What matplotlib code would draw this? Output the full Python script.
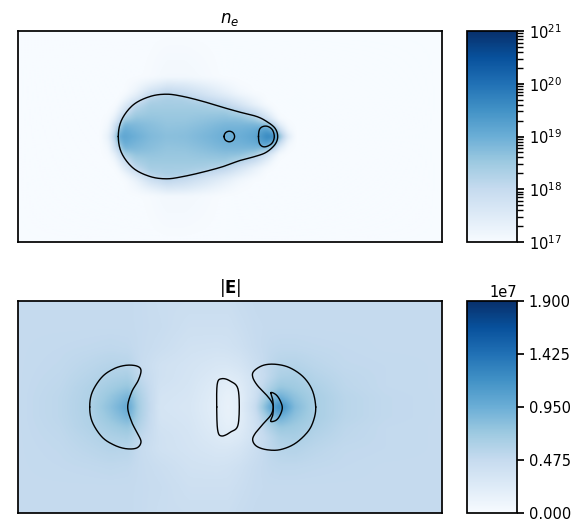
import numpy as np
import matplotlib
matplotlib.use("Agg")
import matplotlib.pyplot as plt
from matplotlib.colors import LogNorm, Normalize
from matplotlib.cm import ScalarMappable

# Field samples. x = horizontal position, dy = distance from the axis.
NE_X = [18, 100, 108, 114, 118, 124, 135, 150, 167, 185, 205, 225, 240, 255, 267, 275, 280, 288, 296, 442]
NE_DY = [0, 6, 12, 18, 25, 32, 38, 42, 46, 52, 60, 106]
NE_LOG = [
    [17, 17, 17.3, 18.1, 19.0, 19.15, 19.0, 18.8, 18.7, 18.72, 18.85, 19.0, 19.0, 19.15, 19.65, 19.6, 18.7, 17.5, 17, 17],
    [17, 17, 17.2, 17.8, 18.6, 19.05, 18.9, 18.75, 18.65, 18.68, 18.8, 18.95, 18.95, 19.05, 19.35, 18.9, 18.0, 17.2, 17, 17],
    [17, 17, 17.1, 17.7, 18.1, 18.85, 18.8, 18.7, 18.6, 18.62, 18.72, 18.85, 18.85, 18.85, 18.7, 18.0, 17.4, 17.05, 17, 17],
    [17, 17, 17.05, 17.3, 17.7, 18.35, 18.6, 18.6, 18.55, 18.55, 18.62, 18.68, 18.65, 18.4, 17.8, 17.3, 17.05, 17, 17, 17],
    [17, 17, 17, 17.1, 17.35, 17.8, 18.35, 18.5, 18.5, 18.5, 18.5, 18.5, 18.25, 17.85, 17.35, 17.05, 17, 17, 17, 17],
    [17, 17, 17, 17, 17.1, 17.45, 18.05, 18.4, 18.4, 18.4, 18.35, 18.1, 17.7, 17.3, 17.05, 17, 17, 17, 17, 17],
    [17, 17, 17, 17, 17, 17.15, 17.6, 18.2, 18.35, 18.3, 18.0, 17.7, 17.4, 17.15, 17, 17, 17, 17, 17, 17],
    [17, 17, 17, 17, 17, 17.05, 17.35, 17.95, 18.2, 18.05, 17.75, 17.45, 17.2, 17.05, 17, 17, 17, 17, 17, 17],
    [17, 17, 17, 17, 17, 17, 17.2, 17.7, 18.0, 17.85, 17.6, 17.3, 17.1, 17, 17, 17, 17, 17, 17, 17],
    [17, 17, 17, 17, 17, 17, 17.1, 17.35, 17.6, 17.55, 17.35, 17.15, 17.03, 17, 17, 17, 17, 17, 17, 17],
    [17, 17, 17, 17, 17, 17, 17, 17.03, 17.1, 17.1, 17.05, 17, 17, 17, 17, 17, 17, 17, 17, 17],
    [17] * 20,
]
E_X = [18, 60, 90, 110, 128, 140, 160, 190, 217, 228, 240, 255, 270, 280, 295, 315, 345, 385, 442]
E_DY = [0, 10, 20, 30, 42, 60, 80, 106]
E_VAL = [
    [.48, .53, .62, .80, 1.0, .64, .33, .30, .20, .14, .20, .45, 1.0, 1.25, .85, .65, .55, .50, .48],
    [.48, .53, .61, .75, .90, .62, .34, .31, .21, .15, .20, .40, .78, .95, .78, .65, .55, .50, .48],
    [.48, .52, .60, .68, .75, .57, .36, .32, .23, .18, .23, .38, .62, .74, .70, .62, .53, .49, .48],
    [.48, .51, .57, .62, .65, .51, .38, .33, .26, .23, .27, .38, .53, .63, .65, .58, .52, .49, .48],
    [.48, .50, .54, .57, .56, .47, .38, .34, .30, .30, .33, .42, .52, .57, .58, .54, .50, .49, .48],
    [.48, .49, .50, .51, .50, .47, .43, .37, .36, .37, .40, .46, .50, .51, .51, .50, .49, .48, .48],
    [.48, .48, .48, .48, .48, .47, .45, .40, .40, .40, .43, .47, .48, .48, .48, .48, .48, .48, .48],
    [.48, .48, .48, .48, .48, .47, .44, .43, .43, .43, .46, .48, .48, .48, .48, .48, .48, .48, .48],
]

# Contour outlines: (x, dy)
NE_OUTER = [(118.3, 0), (121.7, 16.7), (133.3, 31.7), (150, 40), (166.7, 42.3), (183.3, 40), (203.3, 35),
            (223.3, 29), (240, 24.3), (256.7, 20), (266.7, 15), (275, 8.3), (277.7, 0), (275, -8), (266.7, -15.5),
            (256.7, -19.5), (240, -24), (223.3, -30), (203.3, -35.5), (183.3, -40), (166.7, -42.3), (150, -40),
            (133.3, -31.7), (121.7, -16.7)]
NE_SPOT = [(224, 0), (225.6, 3.8), (229.3, 5.3), (233, 3.8), (234.6, 0), (233, -3.8), (229.3, -5.3), (225.6, -3.8)]
NE_HEAD = [(258.5, 0), (259.5, 7), (263, 10), (268, 10), (272.5, 6.5), (274.3, 0), (272.5, -6), (268, -9.5),
           (263, -10.2), (259.5, -7)]
E_LEFT = [(89.7, 0), (92.3, 15), (102, 30), (114, 38.3), (126, 41.7), (136.7, 41), (141, 36.7), (138.3, 26.7),
          (131.7, 15), (127.7, 0), (131.7, -15), (137.7, -26.7), (141, -35), (136.7, -41), (126, -41.7),
          (114, -38), (102, -30), (92.3, -15)]
E_RIGHT = [(315.7, 0), (312.3, 16.7), (303.4, 30), (289.7, 39.3), (275.7, 42.7), (263.3, 41.7), (254, 36), (252.7, 30),
           (257.3, 21.7), (266.7, 11.7), (271.7, 5), (273.3, -0.7), (270.7, -8.3), (263.3, -16.7), (255, -26.7),
           (252.7, -33.3), (256.7, -39.3), (266.7, -42.7), (280, -42.7), (294.8, -36.7), (307.6, -25), (313.6, -13.3)]
E_MID = [(216.7, 0), (217.3, 23.3), (221.7, 28.3), (230, 26), (238.3, 16.7), (238.3, -16.7), (230.7, -25),
         (221.7, -29), (217.7, -23.3)]
E_TIP = [(271, 14.3), (276, 12.3), (280, 6.7), (282.3, -0.7), (280, -8.3), (276, -13.3), (270.7, -14.3),
         (272.7, -8.3), (273.3, -0.7), (272.7, 7.3)]

CMAP = "Blues"


def closed_curve(pts, n=16):
    p = np.array(pts, float)
    t = np.linspace(0, 1, n, endpoint=False)[:, None]
    out = []
    for i in range(len(p)):
        p0, p1, p2, p3 = p[i - 1], p[i], p[(i + 1) % len(p)], p[(i + 2) % len(p)]
        out.append(0.5 * (2 * p1 + (p2 - p0) * t + (2 * p0 - 5 * p1 + 4 * p2 - p3) * t ** 2
                          + (3 * p1 - p0 - 3 * p2 + p3) * t ** 3))
    out = np.vstack(out + [p[:1]])
    return out[:, 0], out[:, 1]


def resample(xs, dy, table, half, sigma=1.6):
    """Mirror the half-plane samples, resample onto a pixel grid and soften the facets."""
    dy = np.array(dy, float)
    table = np.array(table, float)
    yy = np.r_[-dy[:0:-1], dy]
    zz = np.vstack([table[:0:-1], table])
    gx = np.arange(18, 442.5, 1.0)
    gy = np.arange(-half, half + 0.5, 1.0)
    a = np.array([np.interp(gx, xs, row) for row in zz])
    b = np.array([np.interp(gy, yy, col) for col in a.T]).T
    r = int(4 * sigma)
    k = np.exp(-0.5 * (np.arange(-r, r + 1) / sigma) ** 2)
    k /= k.sum()
    b = np.pad(b, r, mode="edge")
    b = np.apply_along_axis(lambda v: np.convolve(v, k, mode="same"), 0, b)
    b = np.apply_along_axis(lambda v: np.convolve(v, k, mode="same"), 1, b)
    return gx, gy, b[r:-r, r:-r]


W, H = 584, 532
fig = plt.figure(figsize=(W / 100, H / 100), dpi=100)


def box(x0, y0, x1, y1):
    return [x0 / W, 1 - y1 / H, (x1 - x0) / W, (y1 - y0) / H]


def panel(ypx, title, xs, dy, table, norm, curves):
    ax = fig.add_axes(box(18, ypx[0], 442, ypx[1]))
    half = (ypx[1] - ypx[0]) / 2
    gx, gy, zz = resample(xs, dy, table, half)
    ax.imshow(zz, extent=(gx[0], gx[-1], gy[0], gy[-1]), origin="lower", cmap=CMAP, norm=norm,
              interpolation="bilinear", aspect="auto")
    for c in curves:
        cx, cy = closed_curve(c)
        ax.plot(cx, cy, color="k", lw=1.0)
    ax.set_xlim(18, 442)
    ax.set_ylim(-half, half)
    ax.set_xticks([])
    ax.set_yticks([])
    for s in ax.spines.values():
        s.set_linewidth(1.25)
    ax.set_title(title, fontsize=12, pad=6)
    return ax


panel((31, 242), r"$n_e$", NE_X, NE_DY, NE_LOG, Normalize(17, 21), [NE_OUTER, NE_SPOT, NE_HEAD])
panel((301, 513), r"$|\mathbf{E}|$", E_X, E_DY, E_VAL, Normalize(0, 1.9), [E_LEFT, E_RIGHT, E_MID, E_TIP])

cax1 = fig.add_axes(box(467, 31, 517, 242))
cb1 = fig.colorbar(ScalarMappable(LogNorm(1e17, 1e21), CMAP), cax=cax1)
cax2 = fig.add_axes(box(467, 301, 517, 513))
cb2 = fig.colorbar(ScalarMappable(Normalize(0, 1.9e7), CMAP), cax=cax2)
cb2.set_ticks([0, 0.475e7, 0.95e7, 1.425e7, 1.9e7])
cb2.ax.yaxis.get_offset_text().set_fontsize(10.5)
for cb in (cb1, cb2):
    cb.outline.set_linewidth(1.25)
    cb.ax.tick_params(which="major", length=5, width=1.25, labelsize=10.5)
    cb.ax.tick_params(which="minor", length=4, width=1)

fig.savefig("out.png", dpi=100)
